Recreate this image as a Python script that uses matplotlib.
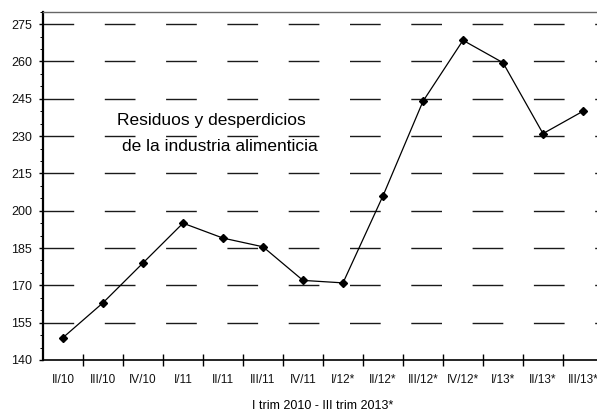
import matplotlib
matplotlib.use("Agg")
import matplotlib.pyplot as plt
import numpy as np

categories = ["II/10", "III/10", "IV/10", "I/11", "II/11", "III/11", "IV/11",
              "I/12*", "II/12*", "III/12*", "IV/12*", "I/13*", "II/13*", "III/13*"]
values = [149, 163, 179, 195, 189, 185.5, 172, 171, 206, 244, 268.5, 259.5, 231, 240]
y_ticks = [140, 155, 170, 185, 200, 215, 230, 245, 260, 275]
x_label = "I trim 2010 - III trim 2013*"
title_lines = ["Residuos y desperdicios", "de la industria alimenticia"]

plt.rcParams['font.family'] = ['Liberation Sans', 'DejaVu Sans']
plt.rcParams['lines.scale_dashes'] = False

W, H = 597, 412
fig = plt.figure(figsize=(W / 100, H / 100), dpi=100)
ax = fig.add_axes([43 / W, (H - 360) / H, 560 / W, (360 - 11.7) / H])

x = np.arange(len(categories))
ax.plot(x, values, color='black', lw=0.9, marker='D', markersize=3.6,
        markerfacecolor='black', markeredgecolor='black', zorder=3)

ax.set_xlim(-0.5, len(categories) - 0.5)
ax.set_ylim(140, 280)

# gridlines
px = 0.72
for yv in y_ticks[1:]:
    ax.axhline(yv, color='#1a1a1a', lw=1.0, linestyle=(0, (30.7 * px, 30.6 * px)), zorder=1)

ax.set_yticks(y_ticks)
ax.set_yticks(np.arange(140, 281, 5), minor=True)
ax.tick_params(axis='y', which='major', length=3, width=1, direction='out', pad=5, labelsize=9)
ax.tick_params(axis='y', which='minor', length=2, width=0.7, direction='out')

# x: boundary ticks (major), category labels (minor)
ax.set_xticks(np.arange(0.5, len(categories) - 0.5, 1))
ax.set_xticklabels([])
ax.set_xticks(x, minor=True)
ax.set_xticklabels(categories, minor=True)
ax.tick_params(axis='x', which='major', length=8, width=1, direction='inout')
ax.tick_params(axis='x', which='minor', length=0, pad=10, labelsize=8.5)

for lab in ax.get_xticklabels(minor=True) + ax.get_yticklabels():
    lab.set_color('#111111')

ax.set_xlabel(x_label, fontsize=9, labelpad=10)

ax.spines['left'].set_linewidth(1.6)
ax.spines['bottom'].set_linewidth(1.2)
ax.spines['top'].set_color('#666666')
ax.spines['top'].set_linewidth(1.0)
ax.spines['right'].set_visible(False)

fig.text(211.5 / W, (H - 125) / H, title_lines[0], ha='center', va='baseline', fontsize=12.5)
fig.text(219.5 / W, (H - 151) / H, title_lines[1], ha='center', va='baseline', fontsize=12.5)

fig.savefig("out.png", dpi=100)
